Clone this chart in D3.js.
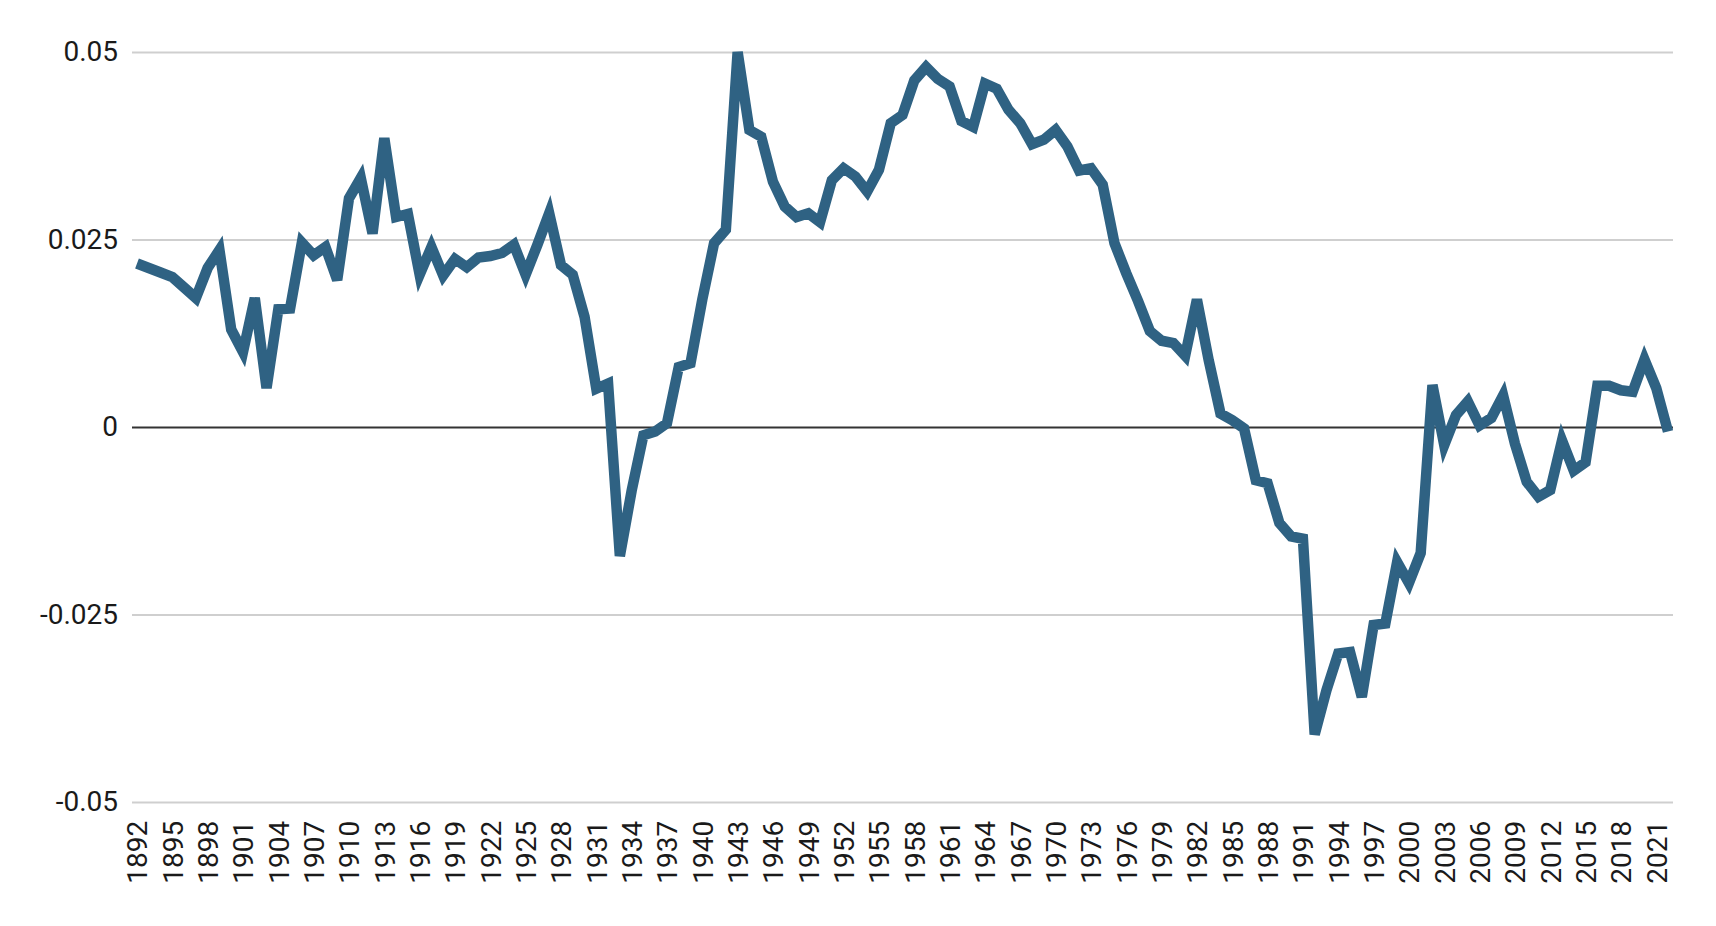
<!DOCTYPE html>
<meta charset="utf-8">
<script src="https://d3js.org/d3.v7.min.js"></script>
<style>
  body { margin: 0; background: #fff; }
  text { font-family: Roboto, sans-serif; fill: #1a1a1a; }
</style>
<div id="chart"></div>
<script>

// years 1892..2022, one value each
var firstYear = 1892;
var values = [
  0.0218, 0.0212, 0.0206, 0.0200, 0.0186, 0.0172, 0.0212, 0.0236, 0.0130, 0.0100,  // 1892-1901
  0.0172, 0.0052, 0.0157, 0.0158, 0.0246, 0.0229, 0.0240, 0.0196, 0.0305, 0.0332,  // 1902-1911
  0.0258, 0.0385, 0.0280, 0.0284, 0.0203, 0.0240, 0.0202, 0.0224, 0.0213, 0.0226,  // 1912-1921
  0.0228, 0.0232, 0.0243, 0.0203, 0.0243, 0.0285, 0.0216, 0.0203, 0.0147, 0.0051,  // 1922-1931
  0.0058, -0.0172, -0.0085, -0.0011, -0.0006, 0.0005, 0.0080, 0.0085, 0.0170, 0.0245, // 1932-1941
  0.0263, 0.0500, 0.0396, 0.0387, 0.0327, 0.0294, 0.0280, 0.0285, 0.0273, 0.0329,  // 1942-1951
  0.0345, 0.0334, 0.0314, 0.0343, 0.0405, 0.0416, 0.0462, 0.0480, 0.0464, 0.0454,  // 1952-1961
  0.0408, 0.0400, 0.0458, 0.0451, 0.0423, 0.0405, 0.0377, 0.0383, 0.0396, 0.0374,  // 1962-1971
  0.0342, 0.0345, 0.0323, 0.0245, 0.0205, 0.0168, 0.0128, 0.0115, 0.0112, 0.0095,  // 1972-1981
  0.0170, 0.0089, 0.0018, 0.0009, -0.0002, -0.0071, -0.0075, -0.0128, -0.0146, -0.0149, // 1982-1991
  -0.0410, -0.0351, -0.0302, -0.0300, -0.0360, -0.0264, -0.0262, -0.0180, -0.0208, -0.0168, // 1992-2001
  0.0056, -0.0024, 0.0016, 0.0034, 0.0002, 0.0012, 0.0042, -0.0022, -0.0073, -0.0093, // 2002-2011
  -0.0084, -0.0018, -0.0058, -0.0047, 0.0055, 0.0055, 0.0049, 0.0047, 0.0090, 0.0052, // 2012-2021
  -0.0006                                                                            // 2022
];
var years = values.map(function(v, i) { return firstYear + i; });

var yTicks = [0.05, 0.025, 0, -0.025, -0.05];
var yTickLabels = ["0.05", "0.025", "0", "-0.025", "-0.05"];
var xTicks = years.filter(function(y) { return (y - firstYear) % 3 === 0 && y <= 2021; });

var width = 1716, height = 926;

var svg = d3.select("#chart")
  .append("svg")
    .attr("width", width)
    .attr("height", height);

var x = d3.scaleLinear()
    .domain([1892, 2022])
    .range([137, 1668]);

var y = d3.scaleLinear()
    .domain([-0.05, 0.05])
    .range([802, 52]);

// horizontal grid + y labels
var yAxis = svg.append("g")
    .attr("transform", "translate(132,0)")
    .call(d3.axisLeft(y)
      .tickValues(yTicks)
      .tickSize(-(1673 - 132))
      .tickPadding(14)
      .tickFormat(function(d, i) { return yTickLabels[i]; }));

yAxis.select(".domain").remove();
yAxis.selectAll(".tick line")
    .attr("stroke", function(d) { return d === 0 ? "#333" : "#cfcfcf"; })
    .attr("stroke-width", 2);
yAxis.selectAll(".tick text")
    .style("font-size", "28px")
    .attr("fill", "#1a1a1a");

// x labels, rotated
var xAxis = svg.append("g")
    .attr("transform", "translate(0,818)")
    .call(d3.axisBottom(x)
      .tickValues(xTicks)
      .tickSize(0)
      .tickFormat(d3.format("d")));

xAxis.select(".domain").remove();
xAxis.selectAll(".tick text")
    .style("font-size", "28px")
    .attr("fill", "#1a1a1a")
    .attr("transform", "rotate(-90)")
    .attr("x", 0)
    .attr("y", 0)
    .attr("dx", "-0.1em")
    .attr("dy", "0.35em")
    .attr("text-anchor", "end");

// the line
var line = d3.line()
    .x(function(d, i) { return x(years[i]); })
    .y(function(d) { return y(d); });

svg.append("path")
    .datum(values)
    .attr("fill", "none")
    .attr("stroke", "#2f6283")
    .attr("stroke-width", 10.5)
    .attr("stroke-linejoin", "miter")
    .attr("d", line);

</script>
